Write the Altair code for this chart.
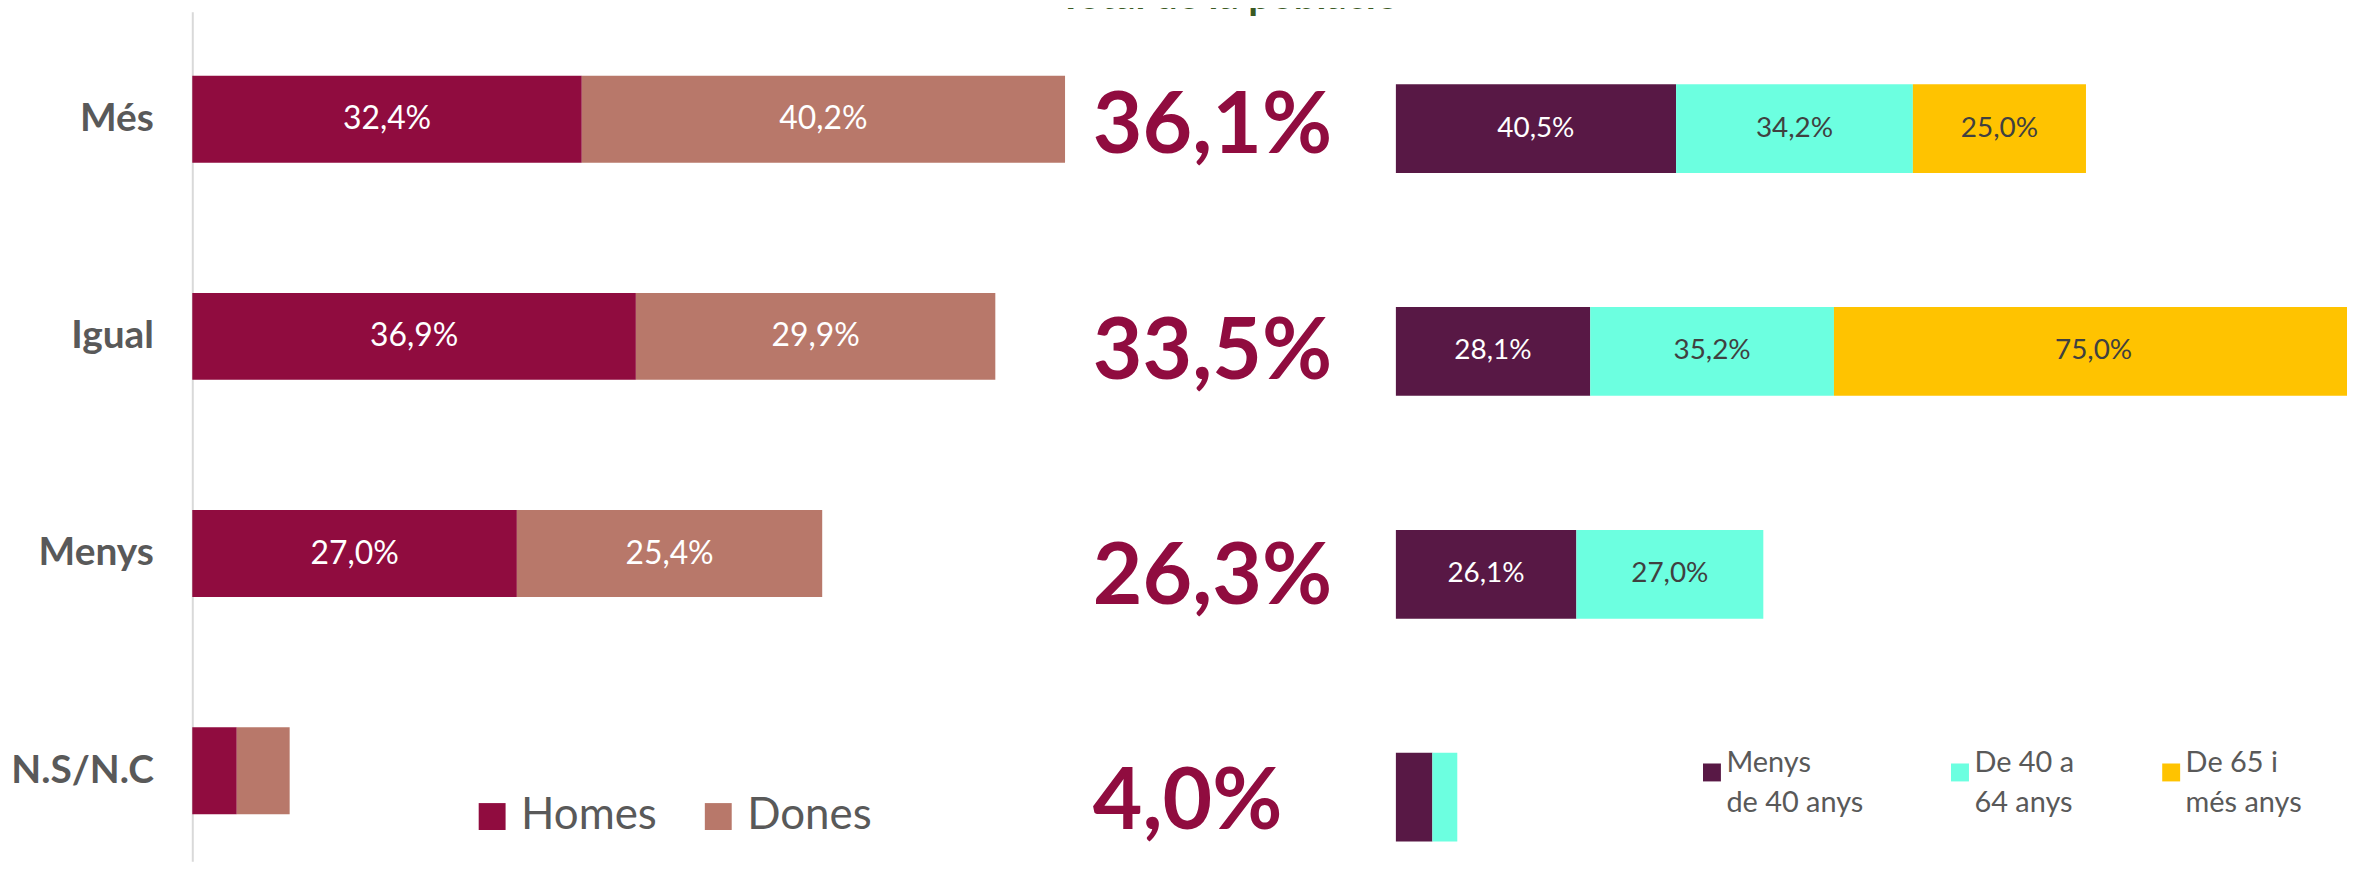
import altair as alt
import pandas as pd

# ---------------- data ----------------
categories = ["Més", "Igual", "Menys", "N.S/N.C"]
gender_groups = ["Homes", "Dones"]
homes = [32.4, 36.9, 27.0, 3.7]
dones = [40.2, 29.9, 25.4, 4.4]
total = [36.1, 33.5, 26.3, 4.0]
age_groups = ["Menys de 40 anys", "De 40 a 64 anys", "De 65 i més anys"]
age_label_lines = [["Menys", "de 40 anys"], ["De 40 a", "64 anys"], ["De 65 i", "més anys"]]
menys40 = [40.5, 28.1, 26.1, 5.3]
de40_64 = [34.2, 35.2, 27.0, 3.6]
de65 = [25.0, 75.0, 0.0, 0.0]
title_text = "Total de la població"

FONT = "Lato"
H = 853
C_HOMES, C_DONES = "#900C3F", "#B8786A"
C_AGE = ["#581845", "#6CFFE0", "#FFC300"]


def fmt(v):
    return f"{v:.1f}".replace(".", ",") + "%"


def stacked(names, series):
    rows = []
    for ci, cat in enumerate(categories):
        start = 0.0
        for si, (name, vals) in enumerate(zip(names, series)):
            v = vals[ci]
            rows.append(dict(cat=cat, group=name, order=si, value=v, start=start,
                             end=start + v, mid=start + v / 2, label=fmt(v)))
            start += v
    return pd.DataFrame(rows)


# ---------------- left panel: gender ----------------
gender_df = stacked(gender_groups, [homes, dones])
left_x_scale = alt.Scale(domain=[0, 74], nice=False, zero=True)
left_y = alt.Y(
    "cat:N", sort=categories, title=None,
    scale=alt.Scale(type="band", paddingInner=0.6, paddingOuter=0.2565, align=0.576),
    axis=alt.Axis(labelFont=FONT, labelFontSize=39, labelFontWeight="bold",
                  labelColor="#595959", labelPadding=39, ticks=False,
                  domainColor="#D9D9D9", domainWidth=2, minExtent=184, maxExtent=184),
)
lbase = alt.Chart(gender_df).encode(y=left_y)
left_bars = lbase.mark_bar().encode(
    x=alt.X("start:Q", scale=left_x_scale, axis=None),
    x2="end:Q",
    color=alt.Color(
        "group:N",
        scale=alt.Scale(domain=gender_groups, range=[C_HOMES, C_DONES]),
        legend=alt.Legend(title=None, orient="none", legendX=279, legendY=786,
                          direction="horizontal", symbolType="square", symbolSize=729,
                          symbolStrokeWidth=0, labelFont=FONT, labelFontSize=44,
                          labelColor="#595959", labelOffset=7, columnPadding=39, padding=0),
    ),
)
left_text = lbase.transform_filter("datum.value >= 10").mark_text(
    font=FONT, fontSize=32, color="white"
).encode(x=alt.X("mid:Q", scale=left_x_scale, axis=None), text="label:N")
left = alt.layer(left_bars, left_text).properties(width=893, height=H)

# ---------------- middle panel: totals ----------------
total_df = pd.DataFrame(dict(cat=categories, total=total, label=[fmt(v) for v in total]))
middle = alt.Chart(total_df).mark_text(
    font=FONT, fontSize=86, fontWeight="bold", color=C_HOMES, align="left"
).encode(
    x=alt.value(0),
    y=alt.Y("cat:N", sort=categories, axis=None,
            scale=alt.Scale(type="band", paddingInner=0.6, paddingOuter=0.187, align=0.842)),
    text="label:N",
).properties(width=293, height=H)

# ---------------- right panel: age ----------------
age_df = stacked(age_groups, [menys40, de40_64, de65])
age_df = age_df[age_df["value"] > 0]
right_x_scale = alt.Scale(domain=[0, 137.4], nice=False, zero=True)
right_y = alt.Y("cat:N", sort=categories, axis=None,
                scale=alt.Scale(type="band", paddingInner=0.602, paddingOuter=0.2075, align=0.785))
label_expr = " : ".join(
    f"datum.label == '{g}' ? ['{a}', '{b}']" for g, (a, b) in zip(age_groups[:-1], age_label_lines[:-1])
) + f" : ['{age_label_lines[-1][0]}', '{age_label_lines[-1][1]}']"
rbase = alt.Chart(age_df).encode(y=right_y)
right_bars = rbase.mark_bar(clip=True).encode(
    x=alt.X("start:Q", scale=right_x_scale, axis=None),
    x2="end:Q",
    color=alt.Color(
        "group:N",
        scale=alt.Scale(domain=age_groups, range=C_AGE),
        legend=alt.Legend(title=None, orient="none", legendX=303, legendY=749,
                          direction="horizontal", symbolType="square", symbolSize=324,
                          symbolStrokeWidth=0, labelFont=FONT, labelFontSize=29,
                          labelColor="#595959", labelOffset=0, columnPadding=82,
                          labelBaseline="alphabetic", labelExpr=label_expr, padding=0),
    ),
)
rtext_white = rbase.transform_filter(
    f"datum.value >= 10 && datum.group == '{age_groups[0]}'"
).mark_text(font=FONT, fontSize=28, color="white").encode(
    x=alt.X("mid:Q", scale=right_x_scale, axis=None), text="label:N")
rtext_dark = rbase.transform_filter(
    f"datum.value >= 10 && datum.group != '{age_groups[0]}'"
).mark_text(font=FONT, fontSize=28, color="#404040").encode(
    x=alt.X("mid:Q", scale=right_x_scale, axis=None), text="label:N")
right = alt.layer(right_bars, rtext_white, rtext_dark).properties(width=955, height=H)

chart = alt.hconcat(left, middle, right, spacing=9).resolve_scale(
    x="independent", y="independent", color="independent"
).resolve_legend(color="independent").properties(
    title=alt.TitleParams(title_text, font=FONT, fontSize=40, fontWeight="bold",
                          color="#3A5A23", anchor="middle", frame="bounds", dx=51,
                          offset=-46, baseline="bottom"),
    padding={"left": 0, "right": 0, "top": -33, "bottom": 0},
).configure(
    style={"guide-label": {"lineHeight": 40}},
    view=alt.ViewConfig(stroke="transparent"),
)

chart.save("out.html", embed_options={"renderer": "svg", "actions": False})
